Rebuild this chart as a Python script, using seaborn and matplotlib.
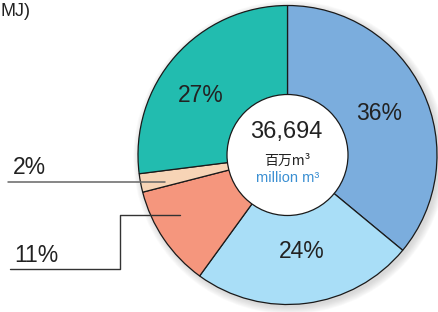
import numpy as np
import seaborn as sns
import matplotlib.pyplot as plt
from matplotlib.patches import Circle

# ---------- data ----------
shares = [36, 24, 11, 2, 27]
slice_colors = ["#7baddd", "#a9def7", "#f5967d", "#f7d4b6", "#22bcaf"]
pct_labels = ["36%", "24%", "11%", "2%", "27%"]
total_value = "36,694"
unit_jp = "百万m³"
unit_en = "million m³"
unit_hint = "MJ)"

sns.set_theme(style="white")
plt.rcParams["font.family"] = ["Liberation Sans", "DejaVu Sans"]

W, H = 438, 312
fig = plt.figure(figsize=(W / 100, H / 100), dpi=100)
ax = fig.add_axes([0, 0, 1, 1])

cx, cy, r = 287.5, H - 155, 149.5

# soft shadow down-right of the ring
for k in range(8):
    ax.add_patch(Circle((cx + 2.5, cy - 2.5), r + 7 - k, color="#9a9a9a",
                        alpha=0.05, lw=0, zorder=0))

palette = sns.color_palette(slice_colors)
wedges, _ = ax.pie(shares, colors=palette, startangle=90, counterclock=False,
                   center=(cx, cy), radius=r, frame=True,
                   wedgeprops=dict(edgecolor="#1a1a1a", linewidth=0.9))
for w in wedges:
    w.set_zorder(2)

# hole in the middle
ax.add_patch(Circle((cx, cy), 60.5, facecolor="white", edgecolor="#1a1a1a",
                    lw=0.9, zorder=3))

ax.text(cx - 1, H - 132, total_value, ha="center", va="center", fontsize=17,
        color="#222222", zorder=4)
ax.text(cx, H - 161, unit_jp, ha="center", va="center", fontsize=10,
        family=["Noto Sans CJK JP", "DejaVu Sans"], color="#222222", zorder=4)
ax.text(cx, H - 178, unit_en, ha="center", va="center", fontsize=10.5,
        color="#3a8fd2", zorder=4)

# percent labels (pixel positions)
label_pos = {"36%": (379, 114), "24%": (302, 251), "27%": (201, 95),
             "2%": (29, 168), "11%": (36, 256)}
for lab in pct_labels:
    x, y = label_pos[lab]
    ax.text(x, H - y, lab, ha="center", va="center", fontsize=16.5,
            color="#222222", zorder=4)

# leader lines
ax.plot([8, 165], [H - 182, H - 182], color="#666666", lw=1.1, zorder=5)
ax.plot([10, 120, 120, 180], [H - 269, H - 269, H - 215, H - 215],
        color="#333333", lw=1.0, zorder=5)

ax.text(0, H - 16, unit_hint, ha="left", va="baseline", fontsize=13,
        color="#222222")

ax.set_xlim(0, W)
ax.set_ylim(0, H)
ax.set_aspect("equal")
ax.axis("off")

fig.savefig("out.png", dpi=100)
